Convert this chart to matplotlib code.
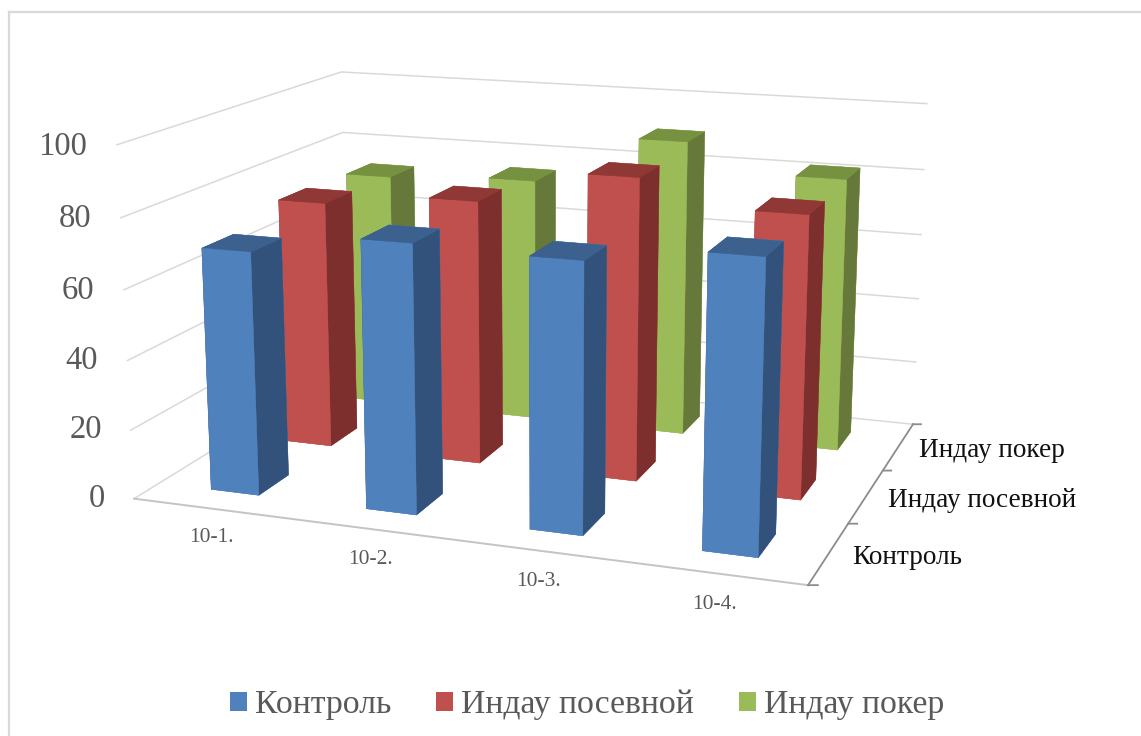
import matplotlib
matplotlib.use("Agg")
import matplotlib.pyplot as plt
from matplotlib.lines import Line2D
from matplotlib.patches import Patch
from mpl_toolkits.mplot3d import proj3d

W, H = 1141, 736

categories = ["10-1.", "10-2.", "10-3.", "10-4."]
series = ["Контроль", "Индау посевной", "Индау покер"]
kontrol = [69.8, 76.0, 75.1, 79.9]
posevnoy = [74.1, 78.0, 88.1, 81.1]
poker = [73.2, 75.1, 90.1, 82.0]
z_ticks = [0, 20, 40, 60, 80, 100]

front = ["#4F81BD", "#C0504D", "#9BBB59"]
side = ["#32527B", "#7D2F2D", "#67793A"]
top = ["#3C618F", "#8F3835", "#769140"]

plt.rcParams["font.family"] = ["Liberation Serif", "DejaVu Serif"]

fig = plt.figure(figsize=(W / 100, H / 100), dpi=100)

# chart border, only the top and left sides are in the frame
border = dict(color="#D9D9D9", linewidth=1.6, transform=fig.transFigure)
fig.add_artist(Line2D([9.3 / W, 1], [1 - 12 / H, 1 - 12 / H], **border))
fig.add_artist(Line2D([9.3 / W, 9.3 / W], [0, 1 - 12 / H], **border))

# camera and axes box, the square axes run past the figure edges on purpose
ax = fig.add_axes([96.6 / W, -5.6 / H, 870.6 / W, 870.6 / H], projection="3d")
ax.set_xlim(0, 1)
ax.set_ylim(0, 1)
ax.set_zlim(0, 100)
ax.view_init(elev=14.1157, azim=-70.2271, roll=0.004)
ax.set_proj_type("persp", focal_length=0.4669)
ax.set_box_aspect((1, 0.7413, 0.5220))
ax.set_xticks([])
ax.set_yticks([])
ax.set_zticks([])
ax.set_axis_off()
ax.patch.set_alpha(0)
ax.computed_zorder = False


def label(x, y, z, text, **kwargs):
    # flat text placed at the projected position of a 3d point
    px, py, _ = proj3d.proj_transform(x, y, z, ax.get_proj())
    ax.text2D(px, py, text, transform=ax.transData, **kwargs)


# walls
grid_color = "#D9D9D9"
for z in z_ticks:
    ax.plot([0, 0, 1], [0, 1, 1], [z, z, z], color=grid_color, lw=1.1, zorder=1)
ax.plot([0, 1], [0, 0], [0, 0], color="#C4C4C4", lw=1.4, zorder=1)
ax.plot([1, 1], [0, 1], [0, 0], color="#8C8C8C", lw=1.3, zorder=1)
for k in range(len(series) + 1):
    ax.plot([1, 1.012], [k / 3, k / 3 + 0.006], [0, 0], color="#8C8C8C", lw=1.3, zorder=1)

# bars, back row first and left to right inside a row
half_x, half_y = 0.0390, 0.0658
values = [kontrol, posevnoy, poker]
order = 10
for s in [2, 1, 0]:
    for c in range(len(categories)):
        xc = (c + 0.5) / len(categories)
        yc = (s + 0.5) / len(series)
        colors = [front[s], top[s], front[s], front[s], side[s], side[s]]
        ax.bar3d(xc - half_x, yc - half_y, 0, 2 * half_x, 2 * half_y, values[s][c],
                 color=colors, shade=False, edgecolor=colors, linewidth=0.3, zorder=order)
        order += 1

# tick labels
for z in z_ticks:
    label(-0.048, 0, z - 1.0, str(z), ha="right", va="center", fontsize=23.5, color="#595959")
for c, name in enumerate(categories):
    label((c + 0.5) / len(categories), 0, -8.6, name, ha="center", va="center", fontsize=15.5, color="#595959")
for s, name in enumerate(series):
    label(1.032, (s + 0.5) / len(series), -0.4, name, ha="left", va="center", fontsize=19.6, color="#111111")

handles = [Patch(facecolor=col, edgecolor="none") for col in front]
fig.legend(handles, series, loc="center", bbox_to_anchor=(587 / W, 1 - 705 / H), ncol=3, frameon=False,
           fontsize=24.3, labelcolor="#595959", handlelength=0.5, handleheight=0.5, handletextpad=0.24,
           columnspacing=1.33)

fig.savefig("out.png", dpi=100)
